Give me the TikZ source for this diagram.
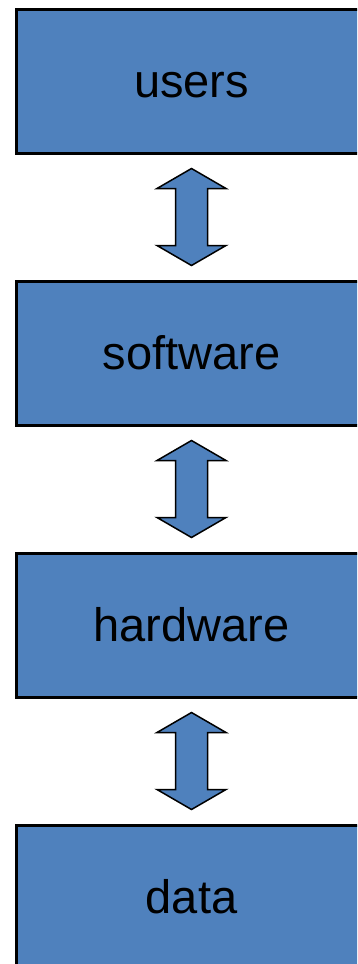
\documentclass[tikz,border=0pt]{standalone}
\usepackage{fontspec}
\setmainfont{Liberation Sans}
\usetikzlibrary{positioning,calc}
\definecolor{layerblue}{RGB}{79,129,189}

\begin{document}
\begin{tikzpicture}[
  x=1pt, y=1pt,
  node distance=125pt,
  layer/.style={rectangle, draw=black, line width=3pt, fill=layerblue,
    minimum width=351pt, minimum height=144pt, inner sep=0pt,
    text height=32pt, text depth=0pt,
    font=\fontsize{47}{50}\selectfont},
  dblarrow/.style={draw=black, line width=1.5pt, fill=layerblue, line join=miter}
]
  % page frame, boxes run past the right and bottom edges
  \useasboundingbox (0,0) rectangle (357,-964);
  \clip (0,0) rectangle (357,-964);

  % four layers, top to bottom
  \node[layer] (users) at (191.5,-81) {users};
  \node[layer, below=of users] (software) {software};
  \node[layer, below=of software] (hardware) {hardware};
  \node[layer, below=of hardware] (data) {data};

  % double arrows between neighbouring layers
  \coordinate (m1) at ($(users.south)!0.5!(software.north)$);
  \coordinate (m2) at ($(software.south)!0.5!(hardware.north)$);
  \coordinate (m3) at ($(hardware.south)!0.5!(data.north)$);
  \draw[dblarrow] ($(m1)+(0,48.5)$) -- ++(34.5,-20) -- ++(-18.5,0) -- ++(0,-57) -- ++(18.5,0)
    -- ++(-34.5,-20) -- ++(-34.5,20) -- ++(18.5,0) -- ++(0,57) -- ++(-18.5,0) -- cycle;
  \draw[dblarrow] ($(m2)+(0,48.5)$) -- ++(34.5,-20) -- ++(-18.5,0) -- ++(0,-57) -- ++(18.5,0)
    -- ++(-34.5,-20) -- ++(-34.5,20) -- ++(18.5,0) -- ++(0,57) -- ++(-18.5,0) -- cycle;
  \draw[dblarrow] ($(m3)+(0,48.5)$) -- ++(34.5,-20) -- ++(-18.5,0) -- ++(0,-57) -- ++(18.5,0)
    -- ++(-34.5,-20) -- ++(-34.5,20) -- ++(18.5,0) -- ++(0,57) -- ++(-18.5,0) -- cycle;
\end{tikzpicture}
\end{document}
